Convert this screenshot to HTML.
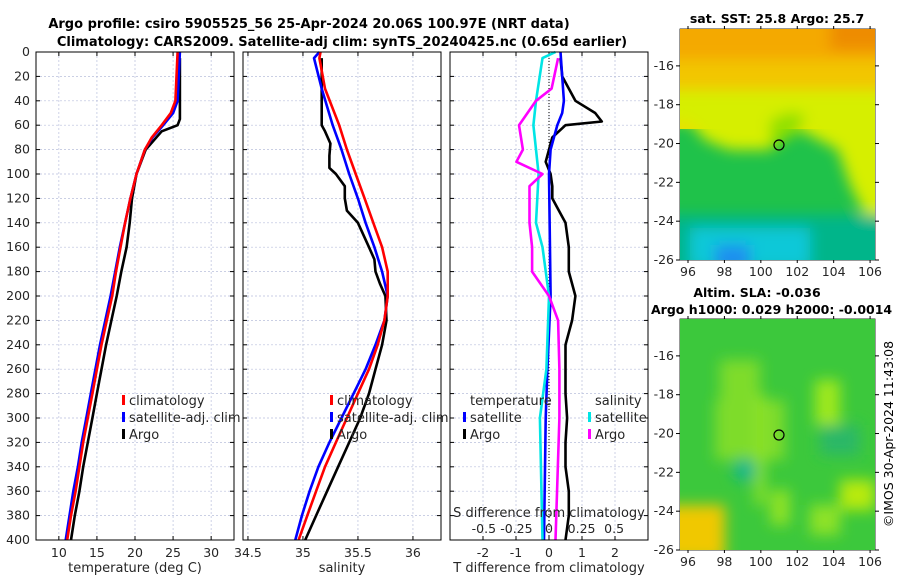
<!DOCTYPE html>
<html><head><meta charset="utf-8"><style>
body{margin:0;background:#fff}
svg{display:block;font-family:"DejaVu Sans","Liberation Sans",sans-serif}
</style></head><body>
<svg id="chart" width="900" height="580" viewBox="0 0 900 580" xmlns="http://www.w3.org/2000/svg">
<defs>
<filter id="blur8"><feGaussianBlur stdDeviation="7"/></filter>
<clipPath id="clipSst"><rect x="680" y="29" width="195" height="231"/></clipPath>
<clipPath id="clipSla"><rect x="680" y="319" width="195" height="231"/></clipPath>
</defs>
<text x="309" y="28" font-size="13" font-weight="bold" text-anchor="middle">Argo profile: csiro 5905525_56 25-Apr-2024 20.06S 100.97E (NRT data)</text>
<text x="342" y="46" font-size="13" font-weight="bold" text-anchor="middle">Climatology: CARS2009. Satellite-adj clim: synTS_20240425.nc (0.65d earlier)</text>
<g id="layer"></g>
<g clip-path="url(#clipSst)">
<rect x="680" y="29" width="195" height="231" fill="#1fc24a"/>
<rect x="680" y="29" width="195" height="100" fill="#e8e000"/>
<g filter="url(#blur8)">
<rect x="660" y="10" width="235" height="55" fill="#f4a900"/>
<rect x="830" y="10" width="60" height="40" fill="#ee8c00"/>
<rect x="660" y="60" width="235" height="35" fill="#f2c600"/>
<polygon points="660,90 895,90 895,215 865,215 850,185 838,150 800,130 770,150 750,150 730,150 705,140 690,122 660,122" fill="#d6ef00"/>
<polygon points="770,150 800,130 805,115 790,112 770,120" fill="#8ee000"/>
<rect x="660" y="215" width="235" height="60" fill="#00b58a"/>
<rect x="690" y="228" width="120" height="40" fill="#10c8d8"/>
<rect x="715" y="245" width="35" height="25" fill="#1a8ef0"/>
</g>
</g>
<g clip-path="url(#clipSla)">
<rect x="680" y="319" width="195" height="231" fill="#3cc83c"/>
<g filter="url(#blur8)">
<rect x="715" y="400" width="70" height="60" fill="#7edc2a"/>
<rect x="720" y="360" width="40" height="50" fill="#7edc2a"/>
<rect x="755" y="395" width="10" height="110" fill="#8ee226"/>
<rect x="815" y="380" width="25" height="45" fill="#9ee81e"/>
<rect x="840" y="480" width="35" height="30" fill="#b8ea10"/>
<rect x="665" y="505" width="60" height="55" fill="#f0c800"/>
<rect x="770" y="490" width="20" height="35" fill="#8ee226"/>
<rect x="810" y="505" width="30" height="30" fill="#8ee226"/>
<circle cx="745" cy="470" r="12" fill="#14b88a"/>
<rect x="820" y="425" width="40" height="30" fill="#2ab868"/>
</g>
</g>
<circle cx="779" cy="145" r="5" fill="none" stroke="#000" stroke-width="1.2"/>
<circle cx="779" cy="435" r="5" fill="none" stroke="#000" stroke-width="1.2"/>
<text x="777" y="23" font-size="12.5" font-weight="bold" text-anchor="middle">sat. SST: 25.8 Argo: 25.7</text>
<text x="757" y="297" font-size="12.5" font-weight="bold" text-anchor="middle">Altim. SLA: -0.036</text>
<text x="651" y="314" font-size="12.5" font-weight="bold">Argo h1000: 0.029 h2000: -0.0014</text>
<text transform="translate(893,434) rotate(-90)" font-size="12.5" text-anchor="middle">©IMOS 30-Apr-2024 11:43:08</text>
</svg>
<script>
// ===== data =====
const depthTick = [0,20,40,60,80,100,120,140,160,180,200,220,240,260,280,300,320,340,360,380,400];
const tempTicks = [10,15,20,25,30];
const salTicks = [34.5,35,35.5,36];
const tdiffTicks = [-2,-1,0,1,2];
const sdiffTicks = [-0.5,-0.25,0,0.25,0.5];
const sdiffTickLabels = ["-0.5","-0.25","0","0.25","0.5"];
const latTicks = [-16,-18,-20,-22,-24,-26];
const lonTicks = [96,98,100,102,104,106];

const tClimDepth = [0,40,50,60,70,80,100,120,140,160,180,200,220,240,260,280,300,320,340,360,380,400];
const tClim = [25.6,25.3,24.7,23.5,22.2,21.3,20.2,19.4,18.7,18.1,17.5,17.0,16.3,15.6,15.0,14.4,13.8,13.2,12.7,12.2,11.6,11.1];
const tSat = [25.9,25.6,25.0,23.7,22.3,21.3,20.2,19.4,18.7,18.0,17.4,16.8,16.1,15.4,14.8,14.2,13.6,13.0,12.5,11.9,11.4,10.9];
const tArgoDepth = [5,55,60,65,80,100,120,140,160,180,200,220,240,260,280,300,320,340,360,380,400];
const tArgo = [25.9,25.9,25.6,23.5,21.4,20.2,19.6,19.3,18.9,18.2,17.6,16.9,16.2,15.6,15.0,14.4,13.8,13.2,12.7,12.1,11.6];

const sDepth = [0,5,30,60,80,100,120,140,160,180,200,220,240,260,280,300,320,340,360,380,400];
const sClim = [35.16,35.15,35.2,35.33,35.4,35.48,35.56,35.64,35.72,35.77,35.77,35.74,35.68,35.6,35.5,35.4,35.3,35.2,35.12,35.04,34.96];
const sSat = [35.15,35.1,35.17,35.27,35.35,35.42,35.5,35.57,35.65,35.72,35.77,35.74,35.66,35.57,35.46,35.35,35.24,35.14,35.06,34.99,34.93];
const sArgoDepth = [5,60,65,75,85,95,100,110,120,130,140,160,170,180,190,200,220,240,260,280,300,320,340,360,380,400];
const sArgo = [35.17,35.17,35.2,35.25,35.24,35.24,35.3,35.38,35.38,35.4,35.5,35.6,35.65,35.66,35.7,35.75,35.76,35.72,35.66,35.6,35.52,35.42,35.32,35.22,35.12,35.02];

const dtArgoDepth = [5,20,40,50,57,60,70,80,90,100,110,120,130,140,160,180,200,220,240,260,280,300,320,340,360,380,400];
const dtArgo = [0.35,0.4,0.8,1.4,1.6,0.5,0.1,0.0,-0.1,0.05,0.1,0.1,0.3,0.5,0.6,0.6,0.8,0.7,0.5,0.5,0.5,0.55,0.5,0.5,0.6,0.6,0.5];
const dtSatDepth = [0,40,50,60,80,100,200,260,300,400];
const dtSat = [0.35,0.45,0.4,0.25,0.05,0.0,0.05,-0.05,-0.1,-0.15];
const dsSatDepth = [0,5,40,60,100,140,160,200,260,300,400];
const dsSat = [0.05,-0.05,-0.1,-0.12,-0.08,-0.1,-0.05,0.0,-0.02,-0.07,-0.05];
const dsArgoDepth = [5,30,40,60,80,90,100,110,140,160,180,200,220,260,300,400];
const dsArgo = [0.07,0.02,-0.1,-0.23,-0.2,-0.25,-0.05,-0.15,-0.15,-0.13,-0.13,0.0,0.07,0.08,0.08,0.05];

// ===== axes =====
const NS = "http://www.w3.org/2000/svg";
const layer = document.getElementById('layer');
const Y0 = 52, Y1 = 540;
const yD = d => Y0 + d / 400 * (Y1 - Y0);
function lin(d0,d1,r0,r1){return v => r0 + (v-d0)/(d1-d0)*(r1-r0);}
const xT = lin(7,33,36,234);
const xS = lin(34.455,36.255,243,441);
const xDT = lin(-3,3,450,648);
const xDS = lin(-0.76,0.76,450,648);
const xLon = lin(95.56,106.27,680,875);
const yLatA = lin(-14.1,-26,29,260);
const yLatB = lin(-14.1,-26,319,550);

function mk(tag, attrs, parent){
  const e = document.createElementNS(NS, tag);
  for (const k in attrs) e.setAttribute(k, attrs[k]);
  (parent||layer).appendChild(e);
  return e;
}
function txt(x,y,s,size,anchor,parent){
  const t = mk('text',{x:x,y:y,'font-size':size,'text-anchor':anchor||'middle',fill:'#262626'},parent);
  t.textContent = s;
  return t;
}

function panel(name, x0, x1, xf, ticks, labels, xlabel){
  const g = mk('g',{});
  
  
  depthTick.forEach(d=>{
    const gl = mk('line',{x1:x0,x2:x1,y1:yD(d),y2:yD(d),stroke:'#b8bfdc','stroke-width':0.7,'stroke-dasharray':'2,2'},g);
    
    
    mk('line',{x1:x0,x2:x0+4,y1:yD(d),y2:yD(d),stroke:'#000'},g);
    mk('line',{x1:x1-4,x2:x1,y1:yD(d),y2:yD(d),stroke:'#000'},g);
  });
  ticks.forEach((v,i)=>{
    const x = xf(v);
    const gl = mk('line',{x1:x,x2:x,y1:Y0,y2:Y1,stroke:'#b8bfdc','stroke-width':0.7,'stroke-dasharray':'2,2'},g);
    
    
    mk('line',{x1:x,x2:x,y1:Y1-4,y2:Y1,stroke:'#000'},g);
    mk('line',{x1:x,x2:x,y1:Y0,y2:Y0+4,stroke:'#000'},g);
    const t = txt(x,557,labels?labels[i]:String(v),12.5,'middle',g);
    
    
  });
  const xl = txt((x0+x1)/2,572,xlabel,13,'middle',g);
  
  
  return g;
}
function frame(x0,x1){
  const r = mk('rect',{x:x0,y:Y0,width:x1-x0,height:Y1-Y0,fill:'none',stroke:'#000','stroke-width':1});
  
  
}
function series(name, depths, vals, xf, color, w){
  const pts = depths.map((d,i)=>xf(vals[i]).toFixed(1)+','+yD(d).toFixed(1)).join(' ');
  const p = mk('polyline',{points:pts,fill:'none',stroke:color,'stroke-width':w||2.6,'stroke-linejoin':'round'});
  
  
}
function legendItem(x,y,color,label){
  const b = mk('rect',{x:x,y:y-10,width:3,height:10,fill:color});
  
  
  const t = txt(x+7,y,label,13,'start');
  
  
}

depthTick.forEach(d=>{
  const t = txt(30,yD(d)+4,String(d),12.5,'end');
  
  
});

panel('temperature-panel',36,234,xT,tempTicks,null,'temperature (deg C)');
series('temp-argo',tArgoDepth,tArgo,xT,'#000');
series('temp-satellite-adj-clim',tClimDepth,tSat,xT,'#0000ff');
series('temp-climatology',tClimDepth,tClim,xT,'#ff0000');
frame(36,234);
legendItem(122,405,'#ff0000','climatology');
legendItem(122,422,'#0000ff','satellite-adj. clim');
legendItem(122,439,'#000','Argo');

panel('salinity-panel',243,441,xS,salTicks,null,'salinity');
series('sal-argo',sArgoDepth,sArgo,xS,'#000');
series('sal-satellite-adj-clim',sDepth,sSat,xS,'#0000ff');
series('sal-climatology',sDepth,sClim,xS,'#ff0000');
frame(243,441);
legendItem(330,405,'#ff0000','climatology');
legendItem(330,422,'#0000ff','satellite-adj. clim');
legendItem(330,439,'#000','Argo');

panel('difference-panel',450,648,xDT,tdiffTicks,null,'T difference from climatology');
const zl = mk('line',{x1:xDT(0),x2:xDT(0),y1:Y0,y2:Y1,stroke:'#000','stroke-width':1,'stroke-dasharray':'1,2'});


series('tdiff-argo',dtArgoDepth,dtArgo,xDT,'#000');
series('tdiff-satellite',dtSatDepth,dtSat,xDT,'#0000ff');
series('sdiff-satellite',dsSatDepth,dsSat,xDS,'#00e5e5');
series('sdiff-argo',dsArgoDepth,dsArgo,xDS,'#ff00ff');
frame(450,648);
const lt = txt(470,405,'temperature',13,'start');


legendItem(463,422,'#0000ff','satellite');
legendItem(463,439,'#000','Argo');
const ls = txt(595,405,'salinity',13,'start');


legendItem(588,422,'#00e5e5','satellite');
legendItem(588,439,'#ff00ff','Argo');
const st = txt(549,517,'S difference from climatology',13,'middle');


sdiffTicks.forEach((v,i)=>{
  const t = txt(xDS(v),533,sdiffTickLabels[i],12.5,'middle');
  
  
});

function mapAxes(name,yf,yTop,yBot){
  const r = mk('rect',{x:680,y:yTop,width:195,height:yBot-yTop,fill:'none',stroke:'#000','stroke-width':0.8});
  
  
  latTicks.forEach(v=>{
    const y = yf(v);
    const t = txt(674,y+4,String(v),12.5,'end');
    
    
    mk('line',{x1:875,x2:879,y1:y,y2:y,stroke:'#000'});
    mk('line',{x1:676,x2:680,y1:y,y2:y,stroke:'#000'});
  });
  lonTicks.forEach(v=>{
    const x = xLon(v);
    const t = txt(x,yBot+16,String(v),12.5,'middle');
    
    
    mk('line',{x1:x,x2:x,y1:yBot,y2:yBot+3,stroke:'#000'});
    mk('line',{x1:x,x2:x,y1:yTop-3,y2:yTop,stroke:'#000'});
  });
}
mapAxes('sst-map',yLatA,29,260);
mapAxes('sla-map',yLatB,319,550);
</script>
</body></html>
